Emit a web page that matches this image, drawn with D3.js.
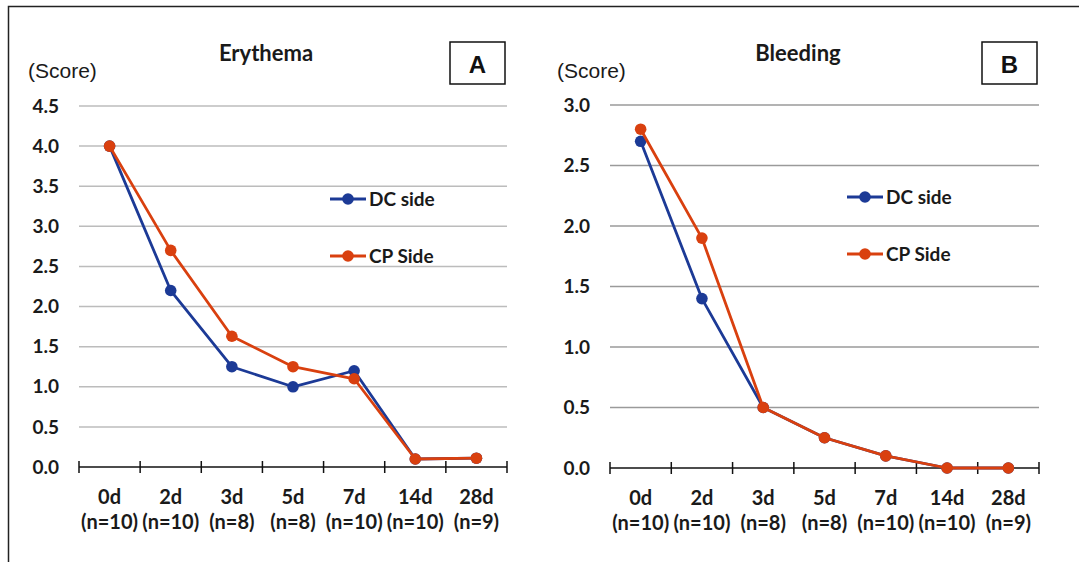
<!DOCTYPE html>
<html>
<head>
<meta charset="utf-8">
<script src="https://cdn.jsdelivr.net/npm/d3@7"></script>
<style>
  body { margin: 0; background: #fff; }
  svg { display: block; }
</style>
</head>
<body>
<svg id="chart" width="1079" height="562"></svg>
<script>
// data
const days = ["0d", "2d", "3d", "5d", "7d", "14d", "28d"];
const nLabels = ["(n=10)", "(n=10)", "(n=8)", "(n=8)", "(n=10)", "(n=10)", "(n=9)"];
const seriesNames = ["DC side", "CP Side"];

const erythemaDC = [4.0, 2.2, 1.25, 1.0, 1.2, 0.1, 0.11];
const erythemaCP = [4.0, 2.7, 1.63, 1.25, 1.1, 0.1, 0.11];
const erythemaTicks = [0, 0.5, 1.0, 1.5, 2.0, 2.5, 3.0, 3.5, 4.0, 4.5];

const bleedingDC = [2.7, 1.4, 0.5, 0.25, 0.1, 0, 0];
const bleedingCP = [2.8, 1.9, 0.5, 0.25, 0.1, 0, 0];
const bleedingTicks = [0, 0.5, 1.0, 1.5, 2.0, 2.5, 3.0];

const colors = ["#1c3a96", "#d9400f"];
const boldFont = "Lato, 'Open Sans', sans-serif";

const svg = d3.select("#chart");

// outer frame
svg.append("path")
    .attr("d", "M8.5,562 V6.5 H1079")
    .attr("fill", "none")
    .attr("stroke", "#222")
    .attr("stroke-width", 1.5);

function drawPanel(cfg) {
    const g = svg.append("g");

    const x = d3.scaleBand()
        .domain(days)
        .range([cfg.x0, cfg.x1]);

    const y = d3.scaleLinear()
        .domain([0, d3.max(cfg.ticks)])
        .range([cfg.yBottom, cfg.yTop]);

    // gridlines
    g.append("g")
      .selectAll("line")
      .data(cfg.ticks.filter(t => t > 0))
      .join("line")
        .attr("x1", cfg.x0).attr("x2", cfg.x1)
        .attr("y1", d => y(d)).attr("y2", d => y(d))
        .attr("stroke", cfg.gridColor)
        .attr("stroke-width", 1.5);

    // y tick labels
    g.append("g")
      .selectAll("text")
      .data(cfg.ticks)
      .join("text")
        .attr("x", cfg.x0 - 20)
        .attr("y", d => y(d))
        .attr("dy", "0.35em")
        .attr("text-anchor", "end")
        .style("font-family", boldFont)
        .style("font-weight", "bold")
        .style("font-size", "19px")
        .attr("fill", "#1a1a1a")
        .text(d => d.toFixed(1));

    // x axis baseline with ticks
    const axis = g.append("g");
    axis.append("line")
        .attr("x1", cfg.x0).attr("x2", cfg.x1)
        .attr("y1", y(0)).attr("y2", y(0))
        .attr("stroke", "#111").attr("stroke-width", 1.5);
    const edges = days.map(d => x(d)).concat([cfg.x1]);
    axis.selectAll("line.tk")
      .data(edges)
      .join("line")
        .attr("class", "tk")
        .attr("x1", d => d).attr("x2", d => d)
        .attr("y1", y(0) - 6).attr("y2", y(0) + 6)
        .attr("stroke", "#111").attr("stroke-width", 1.5);

    // category labels
    const lab = g.append("g")
      .selectAll("text")
      .data(days)
      .join("text")
        .attr("x", d => x(d) + x.bandwidth() / 2)
        .attr("y", y(0) + 37)
        .attr("text-anchor", "middle")
        .style("font-family", boldFont)
        .style("font-weight", "bold")
        .style("font-size", "20px")
        .attr("fill", "#1a1a1a");
    lab.append("tspan").text(d => d);
    lab.append("tspan")
        .attr("x", d => x(d) + x.bandwidth() / 2)
        .attr("dy", 25)
        .text((d, i) => nLabels[i]);

    // series lines + markers
    const line = d3.line()
        .x((d, i) => x(days[i]) + x.bandwidth() / 2)
        .y(d => y(d));

    cfg.series.forEach((vals, s) => {
        g.append("path")
            .datum(vals)
            .attr("d", line)
            .attr("fill", "none")
            .attr("stroke", colors[s])
            .attr("stroke-width", 2.8)
            .attr("stroke-linejoin", "round");
        g.append("g")
          .selectAll("circle")
          .data(vals)
          .join("circle")
            .attr("cx", (d, i) => x(days[i]) + x.bandwidth() / 2)
            .attr("cy", d => y(d))
            .attr("r", 5.8)
            .attr("fill", colors[s]);
    });

    // legend
    const leg = g.append("g")
      .selectAll("g")
      .data(seriesNames)
      .join("g")
        .attr("transform", (d, i) => `translate(${cfg.legX},${cfg.legY + i * 57})`);
    leg.append("line")
        .attr("x1", 0).attr("x2", 36)
        .attr("stroke", (d, i) => colors[i])
        .attr("stroke-width", 2.8);
    leg.append("circle")
        .attr("cx", 18).attr("r", 5.8)
        .attr("fill", (d, i) => colors[i]);
    leg.append("text")
        .attr("x", 39)
        .attr("dy", "0.35em")
        .style("font-family", boldFont)
        .style("font-weight", "bold")
        .style("font-size", "19px")
        .attr("fill", "#1a1a1a")
        .text(d => d);

    // title
    g.append("text")
        .attr("x", cfg.titleX).attr("y", 61)
        .attr("text-anchor", "middle")
        .style("font-family", boldFont)
        .style("font-weight", "bold")
        .style("font-size", "22px")
        .attr("fill", "#1a1a1a")
        .text(cfg.title);

    // unit label
    g.append("text")
        .attr("x", cfg.scoreX).attr("y", 78)
        .style("font-family", "'Liberation Sans', Arial, sans-serif")
        .style("font-size", "21px")
        .attr("fill", "#1a1a1a")
        .text("(Score)");

    // panel letter box
    g.append("rect")
        .attr("x", cfg.boxX).attr("y", 42)
        .attr("width", 55).attr("height", 42)
        .attr("fill", "#fff")
        .attr("stroke", "#111").attr("stroke-width", 1.5);
    g.append("text")
        .attr("x", cfg.boxX + 27.5).attr("y", 73)
        .attr("text-anchor", "middle")
        .style("font-family", "'Liberation Sans', Arial, sans-serif")
        .style("font-weight", "bold")
        .style("font-size", "24px")
        .attr("fill", "#111")
        .text(cfg.letter);
}

drawPanel({
    title: "Erythema", letter: "A",
    x0: 79, x1: 507, yTop: 106, yBottom: 467,
    ticks: erythemaTicks, series: [erythemaDC, erythemaCP],
    gridColor: "#bcbcbc",
    titleX: 266, scoreX: 28, boxX: 450,
    legX: 330, legY: 199
});

drawPanel({
    title: "Bleeding", letter: "B",
    x0: 610, x1: 1039, yTop: 105, yBottom: 468,
    ticks: bleedingTicks, series: [bleedingDC, bleedingCP],
    gridColor: "#9a9a9a",
    titleX: 798, scoreX: 557, boxX: 982,
    legX: 847, legY: 197
});
</script>
</body>
</html>
